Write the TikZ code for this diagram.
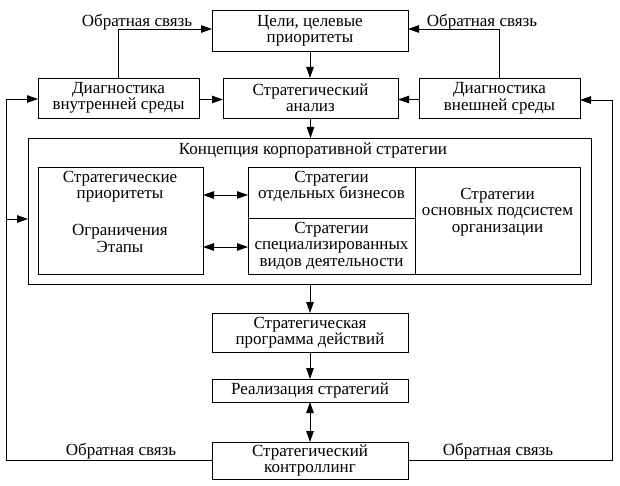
\documentclass[tikz,border=0pt]{standalone}
\usepackage{fontspec}
\setmainfont{Liberation Serif}
\usetikzlibrary{arrows.meta}
\begin{document}
\begin{tikzpicture}[x=1pt,y=-1pt,
  every node/.style={font=\fontsize{17}{16.5}\selectfont, align=center, inner sep=0pt, outer sep=0pt},
  box/.style={draw, line width=0.9pt},
  line/.style={line width=0.9pt},
  arr/.style={line width=0.9pt, -{Triangle[length=11pt,width=7.5pt]}},
  darr/.style={line width=0.9pt, {Triangle[length=11pt,width=7.5pt]}-{Triangle[length=11pt,width=7.5pt]}}
]
\fill[white] (0,0) rectangle (620,486);
\useasboundingbox (0,0) rectangle (620,486);

% top row
\node[box, minimum width=196pt, minimum height=41pt] (goals) at (310,30.5) {Цели, целевые\\приоритеты};
\node (fb1) at (137,22) {Обратная связь};
\node (fb2) at (482,22) {Обратная связь};

% second row
\node[box, minimum width=161pt, minimum height=40pt] (dint) at (118.5,98) {Диагностика\\внутренней среды};
\node[box, minimum width=175pt, minimum height=40pt] (sa) at (310.5,98) {Стратегический\\анализ};
\node[box, minimum width=161pt, minimum height=40pt] (dext) at (499.5,98) {Диагностика\\внешней среды};

% concept block
\node[box, minimum width=563pt, minimum height=146pt] (outer) at (309.5,211) {};
\node (title) at (313,150) {Концепция корпоративной стратегии};
\node[box, minimum width=165pt, minimum height=107pt] (lbox) at (120.5,220.5) {};
\node (t1) at (120,186.5) {Стратегические\\приоритеты};
\node (t2) at (120,238.5) {Ограничения\\Этапы};
\node[box, minimum width=167pt, minimum height=51pt] (mtop) at (331.5,192.5) {};
\node (t3) at (331.5,186.5) {Стратегии\\отдельных бизнесов};
\node[box, minimum width=167pt, minimum height=56pt] (mbot) at (331.5,246) {Стратегии\\специализированных\\видов деятельности};
\node[box, minimum width=165pt, minimum height=107pt] (rbox) at (497.5,220.5) {};
\node (t4) at (497.5,212) {Стратегии\\основных подсистем\\организации};

% lower chain
\node[box, minimum width=196pt, minimum height=39pt] (prog) at (310,332.5) {Стратегическая\\программа действий};
\node[box, minimum width=196pt, minimum height=23pt] (real) at (310,390.5) {Реализация стратегий};
\node[box, minimum width=196pt, minimum height=37pt] (ctrl) at (310,460.5) {Стратегический\\контроллинг};
\node (fb3) at (121,451) {Обратная связь};
\node (fb4) at (498,451) {Обратная связь};

\coordinate (Lx) at (6,0);
\coordinate (Rx) at (612,0);

% connectors
\draw[arr] (dint.north) |- ([yshift=1.5pt]goals.west);
\draw[arr] (dext.north) |- ([yshift=1.5pt]goals.east);
\draw[arr] (goals.south) -- (goals.south |- sa.north);
\draw[arr] ([yshift=-1.5pt]dint.east) -- ([yshift=-1.5pt]sa.west);
\draw[arr] ([yshift=-1.5pt]dext.west) -- ([yshift=-1.5pt]sa.east);
\draw[arr] (sa.south) -- (sa.south |- outer.north);
\draw[darr] (lbox.east |- 0,195) -- (mtop.west |- 0,195);
\draw[darr] (lbox.east |- 0,247) -- (mbot.west |- 0,247);
\draw[arr] (outer.south -| prog.north) -- (prog.north);
\draw[arr] (prog.south) -- (real.north);
\draw[darr] (real.south) -- (ctrl.north);
\draw[arr] (ctrl.west) -- (Lx |- ctrl.west) |- ([yshift=-1pt]dint.west);
\draw[arr] (Lx |- 0,219) -- (outer.west |- 0,219);
\draw[arr] (ctrl.east) -- (Rx |- ctrl.east) |- ([yshift=-2pt]dext.east);
\end{tikzpicture}
\end{document}
